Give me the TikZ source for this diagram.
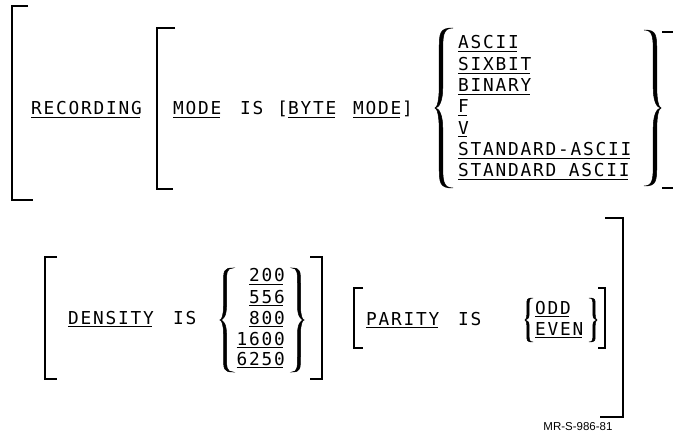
\documentclass[tikz,border=0pt]{standalone}
\usepackage{fontspec}
\setmainfont{Liberation Sans}
\newfontfamily\cobolfont[LetterSpace=10]{DejaVu Sans Mono}
\newcommand\ulw[1]{\setbox0\hbox{#1}\rlap{\rule[-3.2pt]{\dimexpr\wd0-1.6pt\relax}{0.9pt}}\box0}
% filled brace: #1 end x, #2 body x, #3 tip x, #4 top y, #5 bottom y, #6 thickness
\newcommand\bracefill[6]{%
  \pgfmathsetmacro\bYm{(#4+#5)/2}%
  \pgfmathsetmacro\bH{#5-#4}%
  \pgfmathsetmacro\bS{(#3-#2)>0?1:-1}%
  \pgfmathsetmacro\bXo{#2+\bS*(#6)/2}%
  \pgfmathsetmacro\bXi{#2-\bS*(#6)/2}%
  \pgfmathsetmacro\bMo{(\bXo+#3)/2}%
  \pgfmathsetmacro\bMi{(\bXi+#3)/2}%
  \filldraw[line width=0.5pt]
    (#1,#4) .. controls (\bXo,#4) and (\bXo,{#4+0.03*\bH}) .. (\bXo,{#4+0.15*\bH})
    -- (\bXo,{\bYm-0.13*\bH}) .. controls (\bXo,{\bYm-0.05*\bH}) and (\bMo,\bYm) .. (#3,\bYm)
    .. controls (\bMo,\bYm) and (\bXo,{\bYm+0.05*\bH}) .. (\bXo,{\bYm+0.13*\bH})
    -- (\bXo,{#5-0.15*\bH}) .. controls (\bXo,{#5-0.03*\bH}) and (\bXo,#5) .. (#1,#5)
    .. controls (\bXi,#5) and (\bXi,{#5-0.05*\bH}) .. (\bXi,{#5-0.15*\bH})
    -- (\bXi,{\bYm+0.13*\bH}) .. controls (\bXi,{\bYm+0.04*\bH}) and (\bMi,\bYm) .. (#3,\bYm)
    .. controls (\bMi,\bYm) and (\bXi,{\bYm-0.04*\bH}) .. (\bXi,{\bYm-0.13*\bH})
    -- (\bXi,{#4+0.15*\bH}) .. controls (\bXi,{#4+0.05*\bH}) and (\bXi,#4) .. (#1,#4) -- cycle;}
\begin{document}
\begin{tikzpicture}[x=1pt,y=-1pt,
  kw/.style={anchor=base west,inner sep=0pt,font=\cobolfont\fontsize{17.8}{20}\selectfont},
  kwr/.style={kw,anchor=base east},
  brk/.style={line width=1.5pt}]
\useasboundingbox (0,0) rectangle (673,433);

% ---------- row 1 ----------
\draw[brk] (28,6) -- (12,6) -- (12,200) -- (33,200);
\node[kw] (rec) at (31,115) {\ulw{RECORDING}};
\draw[brk] (175,28) -- (157,28) -- (157,189) -- (173,189);
\node[kw] (mode) at (173,115) {\ulw{MODE}};
\node[kw] (is1) at (240,115) {IS};
\node[kw] (lb) at (277,115) {[};
\node[kw] (byte) at (288,115) {\ulw{BYTE}};
\node[kw] (mode2) at (353,115) {\ulw{MODE}};
\node[kw] (rb) at (402,115) {]};

\bracefill{453}{441}{435}{28}{188}{3.6}
\node[kw] (ascii) at (458,49) {\ulw{ASCII}};
\node[kw] (sixbit) at (458,70.3) {\ulw{SIXBIT}};
\node[kw] (binary) at (458,91.6) {\ulw{BINARY}};
\node[kw] (f) at (458,112.9) {\ulw{F}};
\node[kw] (v) at (458,134.2) {\ulw{V}};
\node[kw] (stdh) at (458,155.5) {\ulw{STANDARD-ASCII}};
\node[kw] (stds) at (458,176.8) {\ulw{STANDARD ASCII}};
\bracefill{644}{655}{661}{30}{186}{3.6}
\draw[brk] (662,32) -- (673,32);
\draw[brk] (662,188) -- (673,188);

% ---------- row 2 ----------
\draw[brk] (57,257) -- (45,257) -- (45,379) -- (57,379);
\node[kw] (dens) at (68,324) {\ulw{DENSITY}};
\node[kw] (is2) at (173,324) {IS};
\bracefill{233}{225}{220}{268}{372}{3}
\node[kwr] (n200) at (285,282) {\ulw{200}};
\node[kwr] (n556) at (285,303) {\ulw{556}};
\node[kwr] (n800) at (285,324) {\ulw{800}};
\node[kwr] (n1600) at (285,345) {\ulw{1600}};
\node[kwr] (n6250) at (285,365) {\ulw{6250}};
\bracefill{292}{299}{304}{268}{372}{3}
\draw[brk] (310,257) -- (322,257) -- (322,379) -- (310,379);

\draw[brk] (363,288) -- (354,288) -- (354,348) -- (363,348);
\node[kw] (par) at (366,325) {\ulw{PARITY}};
\node[kw] (is3) at (458,325) {IS};
\bracefill{533}{528}{525}{298}{342}{2.4}
\node[kw] (odd) at (535,314) {\ulw{ODD}};
\node[kw] (even) at (535,335) {\ulw{EVEN}};
\bracefill{589}{594}{597}{298}{342}{2.4}
\draw[brk] (598,288) -- (605,288) -- (605,348) -- (598,348);

\draw[brk] (605,218) -- (623,218) -- (623,417) -- (600,417);
\node[font=\fontsize{11.5}{13}\selectfont,inner sep=0pt] (ref) at (578,427) {MR-S-986-81};
\end{tikzpicture}
\end{document}
